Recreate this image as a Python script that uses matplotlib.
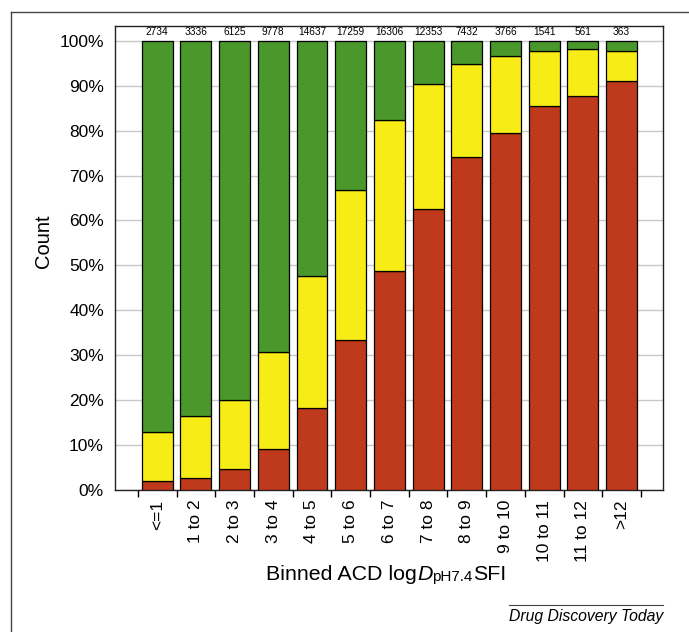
import matplotlib.pyplot as plt
from matplotlib.lines import Line2D
import numpy as np

plt.rcParams['font.family'] = ['Liberation Sans', 'DejaVu Sans']

# bins of ACD logD(pH7.4) SFI
bins = ['<=1', '1 to 2', '2 to 3', '3 to 4', '4 to 5', '5 to 6', '6 to 7',
        '7 to 8', '8 to 9', '9 to 10', '10 to 11', '11 to 12', '>12']
counts = [2734, 3336, 6125, 9778, 14637, 17259, 16306,
          12353, 7432, 3766, 1541, 561, 363]

# share of each bin (%), stacked bottom to top
red = [1.9, 2.7, 4.6, 9.2, 18.2, 33.3, 48.8, 62.5, 74.2, 79.4, 85.5, 87.7, 91.1]
yellow = [11.1, 13.8, 15.5, 21.5, 29.5, 33.5, 33.6, 27.8, 20.6, 17.2, 12.2, 10.4, 6.6]
green = [87.0, 83.5, 79.9, 69.3, 52.3, 33.2, 17.6, 9.7, 5.2, 3.4, 2.3, 1.9, 2.3]

c_red = '#bf3a1c'
c_yellow = '#f8ec16'
c_green = '#4a982c'

W, H = 689, 632
fig = plt.figure(figsize=(W / 100, H / 100), dpi=100)
ax = fig.add_axes([0.1669, 0.2247, 0.7954, 0.7342])

x = np.arange(len(bins))
w = 0.8
ax.bar(x, red, w, color=c_red, edgecolor='black', linewidth=0.9, zorder=3)
ax.bar(x, yellow, w, bottom=red, color=c_yellow, edgecolor='black',
       linewidth=0.9, zorder=3)
base = np.array(red) + np.array(yellow)
ax.bar(x, green, w, bottom=base, color=c_green, edgecolor='black',
       linewidth=0.9, zorder=3)

for xi, n, top in zip(x, counts, base + np.array(green)):
    ax.text(xi, top + 0.9, str(n), ha='center', va='bottom', fontsize=7.3)

ax.set_xlim(-1.09, 13.07)
ax.set_ylim(0, 103.3)

ax.set_yticks(np.arange(0, 101, 10))
ax.set_yticklabels([f'{v}%' for v in range(0, 101, 10)], fontsize=12.5)
ax.tick_params(axis='y', length=0, pad=8)
ax.yaxis.grid(True, color='#c8c8c8', linewidth=1.0, zorder=0)
ax.set_axisbelow(True)

ax.set_xticks(x)
ax.set_xticklabels(bins, rotation=90, fontsize=12.5, va='top')
ax.tick_params(axis='x', which='major', length=0, pad=7)
ax.set_xticks(np.arange(-0.5, 13, 1), minor=True)
ax.tick_params(axis='x', which='minor', length=5, width=1)

for s in ax.spines.values():
    s.set_linewidth(1.0)
    s.set_color('#222222')

fig.text(43 / W, 1 - 241 / H, 'Count', rotation=90, ha='center', va='center',
         fontsize=14.5)

# x label built piece by piece so the pH7.4 part stays near the baseline
pieces = [('Binned ACD log', 15.4, 'normal', 0),
          ('D', 15.4, 'italic', 0),
          ('pH7.4', 11, 'normal', -1.5),
          ('SFI', 15.4, 'normal', 0)]
renderer = fig.canvas.get_renderer()
texts = []
for s, size, st, dy in pieces:
    t = fig.text(0, 1 - (580 - dy) / H, s, fontsize=size, style=st,
                 ha='left', va='baseline')
    texts.append(t)
widths = [t.get_window_extent(renderer).width for t in texts]
x0 = 386 - sum(widths) / 2
for t, wd in zip(texts, widths):
    t.set_x(x0 / W)
    x0 += wd

# frame and journal credit
fig.add_artist(Line2D([11 / W, 11 / W], [0, 1 - 12 / H],
                      color='#444444', linewidth=1.0))
fig.add_artist(Line2D([11 / W, 1], [1 - 12 / H, 1 - 12 / H],
                      color='#444444', linewidth=1.0))
fig.add_artist(Line2D([509 / W, 663 / W], [1 - 605 / H, 1 - 605 / H],
                      color='#444444', linewidth=0.8))
fig.text(663 / W, 1 - 616 / H, 'Drug Discovery Today', style='italic',
         ha='right', va='center', fontsize=11.3)

fig.savefig('out.png', dpi=100)
